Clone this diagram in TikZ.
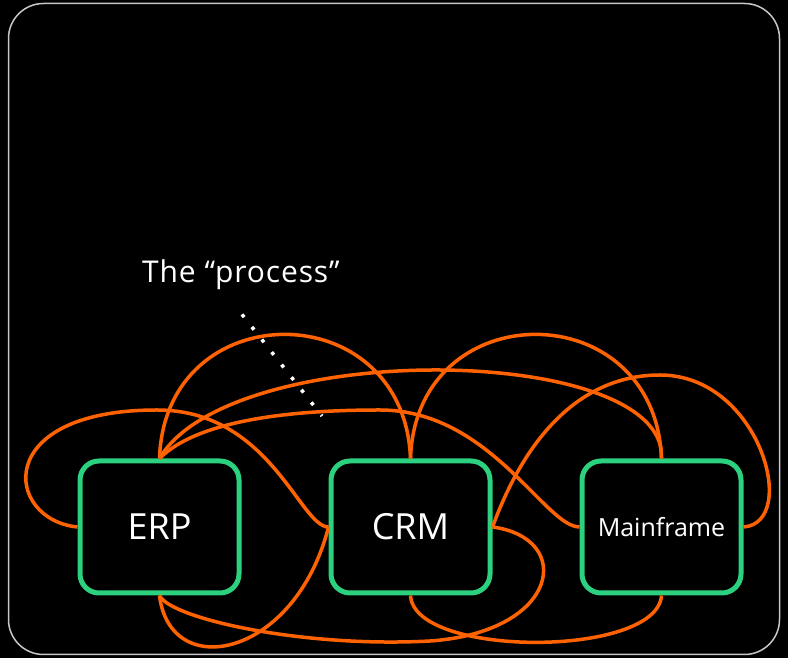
\documentclass[tikz,border=0pt]{standalone}
\usepackage{fontspec}
\setmainfont{Open Sans}
\newfontfamily\labelfont[LetterSpace=3]{Open Sans}
\usepackage{tikz}
\usetikzlibrary{positioning}
\definecolor{flowor}{HTML}{FF6200}
\definecolor{sysgreen}{HTML}{2BD17E}
\definecolor{framegray}{HTML}{C8C8C8}

\begin{document}
\begin{tikzpicture}[x=1pt,y=1pt,
        system/.style={draw=sysgreen,line width=5pt,rounded corners=19pt,minimum width=159pt,minimum height=132pt,inner sep=0pt,text=white},
        link/.style={draw=flowor,line width=3.5pt}]
        \useasboundingbox (0,0) rectangle (788,658);
        \fill[black] (0,0) rectangle (788,658);
        \draw[framegray,line width=1.5pt,rounded corners=35pt] (8.5,3.5) rectangle (779.5,654.5);

        \node[system,font=\fontsize{36}{43}\selectfont] (erp) at (159.5,131) {ERP};
        \node[system,font=\fontsize{36}{43}\selectfont,right=87pt of erp] (crm) {CRM};
        \node[system,font=\fontsize{25}{30}\selectfont,right=87pt of crm] (mainframe) {Mainframe};

        \node[text=white,font=\labelfont\fontsize{30}{36}\selectfont,inner sep=0pt,anchor=base west] (process) at (142,375) {The “process”};
        \coordinate (hint) at (322,242);
        \draw[white,line width=3.5pt,dash pattern=on 3.5pt off 12.5pt] ([xshift=1pt,yshift=-24pt]process.south) -- (hint);

        \draw[link] (erp.west) .. controls (5,138) and (-10,248) .. (157,248) .. controls (270,248) and (300,131) .. (crm.west);
        \draw[link] (erp.north) .. controls (165,365) and (404,365) .. (crm.north);
        \draw[link] (crm.north) .. controls (416,365) and (655,365) .. (mainframe.north);
        \draw[link] (erp.north) .. controls (230,320) and (668,315) .. (mainframe.north);
        \draw[link] (erp.north) .. controls (200,240) and (300,248) .. (380,248) .. controls (490,248) and (545,131) .. (mainframe.west);
        \draw[link] (crm.east) .. controls (525,220) and (580,283) .. (660,283) .. controls (760,283) and (800,135) .. (mainframe.east);
        \draw[link] (crm.east) .. controls (575,120) and (560,26) .. (430,17) .. controls (300,10) and (170,40) .. (erp.south);
        \draw[link] (erp.south) .. controls (170,-25) and (295,0) .. (crm.west);
        \draw[link] (crm.south) .. controls (414,0) and (657,0) .. (mainframe.south);
\end{tikzpicture}
\end{document}
